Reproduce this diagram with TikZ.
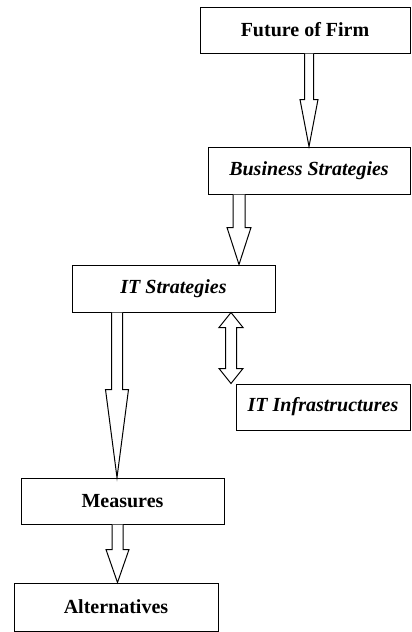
\documentclass[tikz,border=0pt]{standalone}
\usepackage{fontspec}
\setmainfont{Liberation Serif}
\usetikzlibrary{calc}
\usetikzlibrary{positioning}

\tikzset{
  box/.style={draw, line width=0.75pt, inner sep=0pt, align=center,
    font=\fontsize{15}{18}\selectfont\bfseries},
  itbox/.style={box, font=\fontsize{15}{18}\selectfont\bfseries\itshape},
  blk/.style={draw, line width=0.75pt, line join=miter, fill=white}
}

% hollow block arrow: x, from node, to node, shaft half width, head half width, head length
\newcommand{\blockarrow}[6]{%
  \coordinate (t) at (#1,0 |- #2.south);
  \coordinate (b) at (#1,0 |- #3.north);
  \draw[blk] ($(t)+(-#4,0)$) -- ($(b)+(-#4,-#6)$) -- ($(b)+(-#5,-#6)$) -- (b)
    -- ($(b)+(#5,-#6)$) -- ($(b)+(#4,-#6)$) -- ($(t)+(#4,0)$);
}
% two-headed block arrow, same arguments
\newcommand{\dblarrow}[6]{%
  \coordinate (t) at (#1,0 |- #2.south);
  \coordinate (b) at (#1,0 |- #3.north);
  \draw[blk] (t) -- ($(t)+(#5,#6)$) -- ($(t)+(#4,#6)$) -- ($(b)+(#4,-#6)$)
    -- ($(b)+(#5,-#6)$) -- (b) -- ($(b)+(-#5,-#6)$) -- ($(b)+(-#4,-#6)$)
    -- ($(t)+(-#4,#6)$) -- ($(t)+(-#5,#6)$) -- cycle;
}

\begin{document}
\begin{tikzpicture}[x=0.75pt,y=0.75pt,yscale=-1,xscale=1]
  \useasboundingbox (0,0) rectangle (411,632);

  % boxes
  \node[box, minimum width=157.5pt, minimum height=34.5pt] (fut) at (305,30) {Future of Firm};
  \node[itbox, minimum width=151.5pt, minimum height=35.25pt] (bus) at (309,170.5) {Business Strategies};
  \node[itbox, minimum width=152.25pt, minimum height=35.25pt] (its) at (173.5,288.5) {IT Strategies};
  \node[itbox, minimum width=130.5pt, minimum height=34.5pt] (inf) at (323,407) {IT Infrastructures};
  \node[box, minimum width=152.25pt, minimum height=34.5pt] (mea) at (122.5,501) {Measures};
  \node[box, minimum width=153pt, minimum height=36pt] (alt) at (116,607) {Alternatives};

  % arrows
  \blockarrow{309}{fut}{bus}{4.5}{9}{47}
  \blockarrow{239}{bus}{its}{6}{12}{37}
  \dblarrow{231}{its}{inf}{5.5}{12}{15}
  \blockarrow{117}{its}{mea}{5.5}{11.5}{88}
  \blockarrow{117.5}{mea}{alt}{5.5}{11.5}{33}

\end{tikzpicture}
\end{document}
